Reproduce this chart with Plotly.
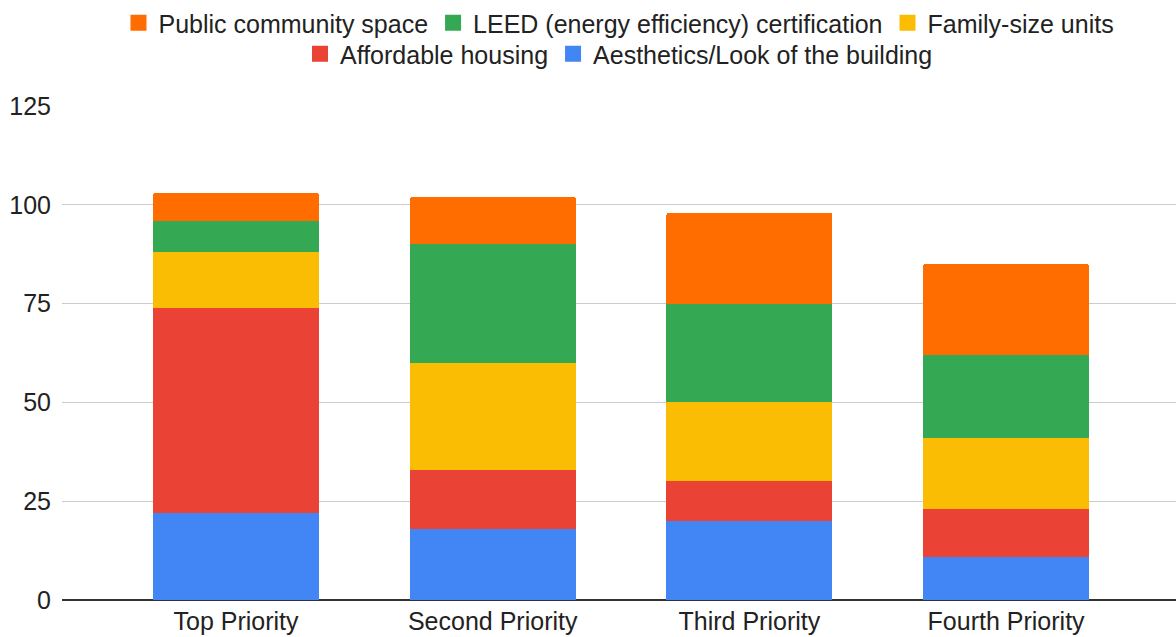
import plotly.graph_objects as go

categories = ["Top Priority", "Second Priority", "Third Priority", "Fourth Priority"]
aesthetics = [22, 18, 20, 11]
affordable = [52, 15, 10, 12]
family = [14, 27, 20, 18]
leed = [8, 30, 25, 21]
public = [7, 12, 23, 23]
y_ticks = [0, 25, 50, 75, 100, 125]

series = [
    ("Aesthetics/Look of the building", aesthetics, "#4285F4", "legend2"),
    ("Affordable housing", affordable, "#EA4335", "legend2"),
    ("Family-size units", family, "#FBBC04", "legend"),
    ("LEED (energy efficiency) certification", leed, "#34A853", "legend"),
    ("Public community space", public, "#FF6D01", "legend"),
]

FONT = "Liberation Sans, Arial, sans-serif"
FS = 25

fig = go.Figure()
for name, vals, color, lg in series:
    fig.add_trace(go.Bar(
        x=categories, y=vals, name=name, showlegend=False,
        marker=dict(color=color, line=dict(width=0)),
    ))
    # legend entry with a larger square swatch
    fig.add_trace(go.Scatter(
        x=[None], y=[None], mode="markers", name=name, legend=lg,
        marker=dict(symbol="square", size=16, color=color),
    ))

leg_common = dict(orientation="h", x=0.5, xanchor="center", yanchor="top",
                  yref="container", traceorder="reversed",
                  bgcolor="rgba(0,0,0,0)",
                  font=dict(size=FS, color="#222222"), itemsizing="trace",
                  itemclick=False, tracegroupgap=0)

fig.update_layout(
    barmode="stack",
    bargap=0.353,
    barcornerradius=3,
    width=1176, height=637,
    margin=dict(l=62, r=0, t=106, b=37),
    paper_bgcolor="white", plot_bgcolor="white",
    font=dict(family=FONT, size=FS, color="#222222"),
    legend=dict(y=1.0, **leg_common),
    legend2=dict(y=1 - 31/637, **leg_common),
    xaxis=dict(range=[-0.678, 3.662], showgrid=False, ticks="", showline=False,
               tickfont=dict(size=FS, color="#222222"), ticklabelstandoff=4),
    yaxis=dict(range=[0, 125], tickvals=y_ticks, showgrid=True, gridcolor="#CCCCCC",
               gridwidth=1, zeroline=True, zerolinecolor="#333333", zerolinewidth=2,
               showline=False, ticks="", tickfont=dict(size=FS, color="#222222"),
               ticklabelstandoff=10),
)

fig.write_html("out.html", config={"displayModeBar": False},
               post_script="document.body.style.margin='0';")
